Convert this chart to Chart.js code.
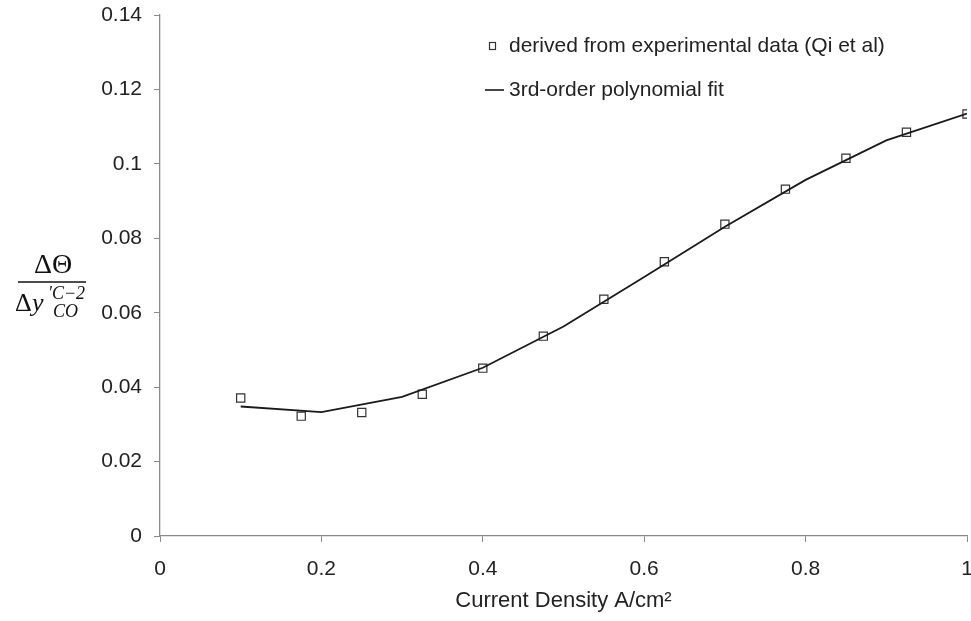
<!DOCTYPE html>
<html>
<head>
<meta charset="utf-8">
<script src="https://cdn.jsdelivr.net/npm/chart.js@4.4.1/dist/chart.umd.min.js"></script>
<style>
  html, body { margin: 0; padding: 0; background: #fff; overflow: hidden; }
  #wrap { width: 971px; height: 621px; overflow: hidden; }
</style>
</head>
<body>
<div id="wrap"><canvas id="myChart" width="974" height="621"></canvas></div>
<script>
// experimental points (Qi et al)
const expX = [0.1, 0.175, 0.25, 0.325, 0.4, 0.475, 0.55, 0.625, 0.7, 0.775, 0.85, 0.925, 1.0];
const expY = [0.0371, 0.0322, 0.0332, 0.0381, 0.0451, 0.0537, 0.0636, 0.0737, 0.0838, 0.0932, 0.1015, 0.1085, 0.1134];

// 3rd order polynomial fit, as drawn
const fitX = [0.1, 0.2, 0.3, 0.4, 0.5, 0.6, 0.7, 0.8, 0.9, 1.0];
const fitY = [0.0348, 0.0333, 0.0374, 0.0452, 0.0563, 0.0696, 0.0831, 0.0957, 0.1063, 0.1135];

const xTicks = [0, 0.2, 0.4, 0.6, 0.8, 1];
const yTicks = [0, 0.02, 0.04, 0.06, 0.08, 0.1, 0.12, 0.14];

const legendLabels = ['derived from experimental data (Qi et al)', '3rd-order polynomial fit'];

const textColor = '#222';
const axisColor = '#8a8a8a';
const sans = "'Liberation Sans', Arial, sans-serif";
const serif = "'Liberation Serif', 'Times New Roman', serif";

const ctx = document.getElementById('myChart').getContext('2d');

// legend + fraction label on the y side
const extras = {
  id: 'extras',
  afterDraw(chart) {
    const c = chart.ctx;
    c.save();
    // legend
    c.fillStyle = textColor;
    c.font = '21px ' + sans;
    c.textBaseline = 'middle';
    c.textAlign = 'left';
    c.strokeStyle = '#333';
    c.lineWidth = 1.2;
    c.strokeRect(489.5, 42.5, 6, 7);
    c.fillText(legendLabels[0], 509, 46);
    c.lineWidth = 1.8;
    c.beginPath();
    c.moveTo(485, 90);
    c.lineTo(504, 90);
    c.stroke();
    c.fillText(legendLabels[1], 509, 90);

    // y label: ΔΘ / Δy'_CO^(C-2)
    c.fillStyle = '#111';
    c.textAlign = 'center';
    c.textBaseline = 'alphabetic';
    c.font = '28px ' + serif;
    c.fillText('ΔΘ', 53, 273);
    c.strokeStyle = '#111';
    c.lineWidth = 1.3;
    c.beginPath();
    c.moveTo(18, 282);
    c.lineTo(86, 282);
    c.stroke();
    c.textAlign = 'left';
    c.font = '26px ' + serif;
    c.fillText('Δ', 15, 311);
    c.font = 'italic 26px ' + serif;
    c.fillText('y', 32, 311);
    c.font = 'italic 18px ' + serif;
    c.fillText('′C−2', 48, 299);
    c.fillText('CO', 53, 317);
    c.restore();
  }
};

const chart = new Chart(ctx, {
  type: 'scatter',
  data: {
    datasets: [
      {
        label: legendLabels[0],
        data: expX.map((x, i) => ({ x: x, y: expY[i] })),
        pointStyle: 'rect',
        pointRadius: 5.8,
        pointBorderWidth: 1.2,
        pointBorderColor: '#333',
        pointBackgroundColor: 'rgba(255,255,255,0)',
        showLine: false,
        order: 2
      },
      {
        label: legendLabels[1],
        data: fitX.map((x, i) => ({ x: x, y: fitY[i] })),
        showLine: true,
        borderColor: '#1a1a1a',
        borderWidth: 1.8,
        pointRadius: 0,
        tension: 0,
        order: 1
      }
    ]
  },
  options: {
    responsive: false,
    animation: false,
    layout: { padding: { top: 15, right: 1, left: 0, bottom: 0 } },
    plugins: {
      legend: { display: false },
      tooltip: { enabled: false }
    },
    scales: {
      x: {
        type: 'linear',
        min: 0,
        max: 1,
        afterBuildTicks: (s) => { s.ticks = xTicks.map(v => ({ value: v })); },
        afterFit: (s) => { s.height = 85; s.paddingLeft = 0; s.paddingRight = 0; },
        grid: { drawOnChartArea: false, drawTicks: true, tickLength: 6, color: axisColor, tickColor: axisColor },
        border: { color: axisColor, width: 1.3 },
        ticks: {
          color: textColor,
          font: { family: sans, size: 21 },
          padding: 15,
          maxRotation: 0,
          callback: (v) => String(v)
        },
        title: {
          display: true,
          text: 'Current Density A/cm²',
          color: textColor,
          font: { family: sans, size: 22 },
          padding: { top: 0, bottom: 7 }
        }
      },
      y: {
        type: 'linear',
        min: 0,
        max: 0.14,
        afterBuildTicks: (s) => { s.ticks = yTicks.map(v => ({ value: v })); },
        afterFit: (s) => { s.width = 160; s.paddingTop = 0; s.paddingBottom = 0; },
        grid: { drawOnChartArea: false, drawTicks: true, tickLength: 6, color: axisColor, tickColor: axisColor },
        border: { color: axisColor, width: 1.3 },
        ticks: {
          color: textColor,
          font: { family: sans, size: 21 },
          padding: 12,
          callback: (v) => String(v)
        }
      }
    }
  },
  plugins: [extras]
});
</script>
</body>
</html>
